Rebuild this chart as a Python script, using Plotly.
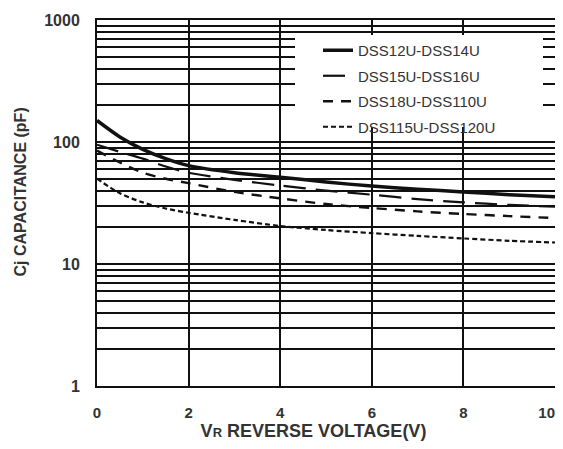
import plotly.graph_objects as go

# ---- data ----
voltage = [0, 0.5, 1, 1.5, 2, 3, 4, 5, 6, 7, 8, 9, 10]
dss12_14 = [150, 110, 87, 73, 64, 56, 51.5, 47, 43.5, 41, 39, 37, 35.5]
dss15_16 = [95, 83, 73, 63, 56, 49, 44, 40, 37, 34, 32, 30.5, 29.5]
dss18_110 = [85, 68, 56, 50, 46, 39, 34.5, 31, 28.8, 27, 25.7, 24.7, 23.8]
dss115_120 = [50, 38, 32, 28.5, 26.3, 23, 20.5, 19, 17.9, 17, 16.2, 15.5, 15]

series_names = ["DSS12U-DSS14U", "DSS15U-DSS16U", "DSS18U-DSS110U", "DSS115U-DSS120U"]
series_vals = [dss12_14, dss15_16, dss18_110, dss115_120]
series_dash = ["solid", "22px,10px", "10px,8px", "5px,3px"]
series_width = [3.5, 2.2, 2.4, 2.2]

y_major = [1, 10, 100, 1000]
x_ticks = [0, 2, 4, 6, 8, 10]

NB = "\u00a0"

# page has an 8px body margin; size the figure so it fits the window
# and the plot area lands where the reference has it
OFF = 8
W, H = 563 - OFF, 449 - 2 * OFF
L, T = 97 - OFF, 20 - OFF
R = OFF + W - 555   # plot right edge at page x 555
B = OFF + H - 386   # plot bottom at page y 386

fig = go.Figure()
for i, (name, vals) in enumerate(zip(series_names, series_vals)):
    fig.add_trace(go.Scatter(
        x=voltage, y=vals, name=name, mode="lines",
        line=dict(color="#111111", width=series_width[i], dash=series_dash[i], shape="spline", smoothing=0.8),
        legendgroup=str(i),
    ))

minor_vals = [m * d for d in (1, 10, 100) for m in range(2, 10)]

pw = W - L - R
ph = H - T - B

# helpers converting page pixel positions to paper fractions
def px_x(p):
    return (p - OFF - L) / pw

def px_y(p):
    return (OFF + H - B - p) / ph

# last x label padded so it stays inside the visible window
x_ticktext = [f"<b>{v}</b>" + (NB * 4 if v == x_ticks[-1] else "") for v in x_ticks]

fig.update_layout(
    width=W, height=H,
    margin=dict(l=L, r=R, t=T, b=B, autoexpand=False),
    paper_bgcolor="white", plot_bgcolor="white",
    font=dict(family="Liberation Sans, Arial, sans-serif", color="#222222"),
    showlegend=True,
    legend=dict(
        x=px_x(318), y=px_y(34), xanchor="left", yanchor="top",
        bgcolor="rgba(0,0,0,0)", borderwidth=0,
        font=dict(size=15, color="#333333"),
        tracegroupgap=3,
    ),
    shapes=[dict(
        type="rect", xref="paper", yref="paper",
        x0=px_x(295), x1=px_x(543), y0=px_y(127), y1=px_y(35),
        fillcolor="white", line=dict(width=0), layer="above",
    )],
    xaxis=dict(
        range=[0, 10], tickvals=x_ticks, ticktext=x_ticktext,
        showgrid=True, gridcolor="#111111", gridwidth=2,
        showline=True, linecolor="#111111", linewidth=2, mirror=True,
        ticks="", ticklabelstandoff=12, ticklabeloverflow="allow",
        tickfont=dict(size=15, color="#333333"),
        zeroline=False,
        title=dict(text="<b>V<span style='font-size:13px'>R</span> REVERSE VOLTAGE(V)" + NB * 5 + "</b>",
                   font=dict(size=18, color="#333333"), standoff=10),
    ),
    yaxis=dict(
        type="log", range=[0, 3],
        tickvals=y_major, ticktext=[f"<b>{v}</b>" for v in y_major],
        showgrid=True, gridcolor="#111111", gridwidth=2,
        minor=dict(tickvals=minor_vals, showgrid=True, gridcolor="#111111", gridwidth=2, ticks=""),
        showline=True, linecolor="#111111", linewidth=2, mirror=True,
        ticks="", ticklabelstandoff=12, ticklabeloverflow="allow",
        tickfont=dict(size=16, color="#333333"),
        zeroline=False,
        title=dict(text="<b>" + NB * 5 + "Cj CAPACITANCE (pF)</b>", font=dict(size=16, color="#333333"), standoff=14),
    ),
)

fig.write_html("out.html")
